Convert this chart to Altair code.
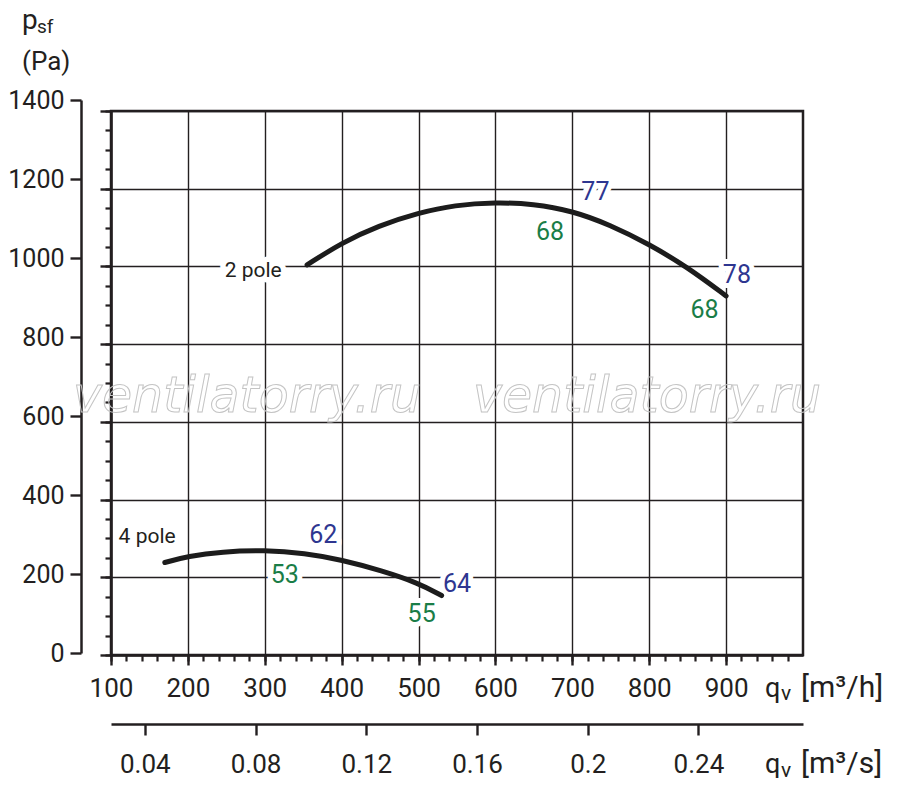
import altair as alt
import pandas as pd

# ---------------- data ----------------
# 2 pole curve  (qv in m3/h, psf in Pa)
q_2pole = [355, 400, 448, 500, 547, 600, 649, 700, 749, 800, 849, 900]
p_2pole = [1004, 1061, 1105, 1138, 1158, 1165, 1161, 1143, 1107, 1057, 999, 924]
# 4 pole curve
q_4pole = [170, 200, 244, 300, 352, 400, 452, 500, 530]
p_4pole = [238, 254, 266, 270, 262, 245, 217, 185, 153]

# axis tick values
x_major_h = [100, 200, 300, 400, 500, 600, 700, 800, 900]
x_minor_h = list(range(100, 1000, 20))
y_major = [0, 200, 400, 600, 800, 1000, 1200, 1400]
y_minor = list(range(0, 1401, 50))
x_major_s = [0.04, 0.08, 0.12, 0.16, 0.2, 0.24]

# number annotations (position in data units)
num_text = ["77", "68", "78", "68", "62", "53", "64", "55"]
num_q = [730, 671, 914, 872, 376, 326, 550, 504]
num_p = [1171, 1068, 957, 867, 288, 185, 162, 86]
num_kind = ["blue", "green", "blue", "green", "blue", "green", "blue", "green"]

# curve name annotations
name_text = ["2 pole", "4 pole"]
name_q = [285, 147]
name_p = [974, 288]

# ---------------- styling ----------------
INK = "#231f20"
BLUE = "#2e3690"
GREEN = "#1a7d47"
FONT = "Roboto"

W, H = 692, 544

df_curves = pd.DataFrame({
    "Q": q_2pole + q_4pole,
    "P": p_2pole + p_4pole,
    "series": ["2 pole"] * len(q_2pole) + ["4 pole"] * len(q_4pole),
})
df_curves["Qs"] = df_curves["Q"] / 3600.0
df_num = pd.DataFrame({"t": num_text, "q": num_q, "p": num_p, "kind": num_kind})
df_name = pd.DataFrame({"t": name_text, "q": name_q, "p": name_p})


def xs():
    return alt.Scale(domain=[100, 1000], nice=False, zero=False)


def ys():
    return alt.Scale(domain=[0, 1400], nice=False, zero=False)


base = alt.Chart(df_curves)

# major axes + grid
major = base.mark_point(opacity=0).encode(
    x=alt.X("Q:Q", scale=xs(), axis=alt.Axis(
        orient="bottom", values=x_major_h, grid=True, gridColor=INK, gridWidth=1.4,
        tickSize=10, tickWidth=2.4, tickColor=INK, domainColor=INK, domainWidth=2.5,
        labelFont=FONT, labelFontSize=26, labelColor=INK, labelPadding=10,
        labelFlush=False, labelOverlap=False, format="d", title=None)),
    y=alt.Y("P:Q", scale=ys(), axis=alt.Axis(
        orient="left", values=y_major, grid=True, gridColor=INK, gridWidth=1.4,
        tickSize=11, tickWidth=2.4, tickColor=INK, domainColor=INK, domainWidth=2.5,
        labels=False, title=None)),
)

# minor ticks
minor = base.mark_point(opacity=0).encode(
    x=alt.X("Q:Q", scale=xs(), axis=alt.Axis(
        orient="bottom", values=x_minor_h, grid=False, domain=False, labels=False,
        tickSize=6, tickWidth=2.2, tickColor=INK, title=None)),
    y=alt.Y("P:Q", scale=ys(), axis=alt.Axis(
        orient="left", values=y_minor, grid=False, domain=False, labels=False,
        tickSize=6, tickWidth=2.2, tickColor=INK, title=None)),
)

# outer pressure axis (slightly taller bracket at the left)
outer_y = base.mark_point(opacity=0).encode(
    y=alt.Y("P:Q", scale=alt.Scale(domain=[0, 1400], nice=False, zero=False, range=[542, -11]),
            axis=alt.Axis(orient="left", offset=30, values=y_major, grid=False,
                          tickSize=11, tickWidth=2.4, tickColor=INK, domainColor=INK,
                          domainWidth=2.5, labelFont=FONT, labelFontSize=25, labelColor=INK,
                          labelPadding=6, labelFlush=False, labelOverlap=False, format="d",
                          title=None)),
)

# second flow axis in m3/s
axis_s = base.mark_point(opacity=0).encode(
    x=alt.X("Qs:Q", scale=alt.Scale(domain=[100 / 3600, 1000 / 3600], nice=False, zero=False),
            axis=alt.Axis(orient="bottom", offset=69, values=x_major_s, grid=False,
                          tickSize=11, tickWidth=2.4, tickColor=INK, domainColor=INK,
                          domainWidth=2.5, labelFont=FONT, labelFontSize=26, labelColor=INK,
                          labelPadding=16, labelFlush=False, labelOverlap=False,
                          labelExpr="format(datum.value, '.2~f')", title=None)),
)

# watermark
wm_df = pd.DataFrame({"t": ["ventilatorry.ru"]})


def watermark(xpix):
    return alt.Chart(wm_df).mark_text(
        font="DejaVu Sans", fontStyle="italic", fontSize=49, fillOpacity=0, stroke="#c4c4c4",
        strokeWidth=1, align="center", baseline="alphabetic"
    ).encode(x=alt.value(xpix), y=alt.value(301), text="t:N")


# curves
curves = base.mark_line(strokeWidth=5, color="#1c1c1c", interpolate="basis",
                        strokeCap="round").encode(
    x=alt.X("Q:Q", scale=xs(), axis=None),
    y=alt.Y("P:Q", scale=ys(), axis=None),
    detail="series:N",
)

# annotation halos + text
num_halo = alt.Chart(df_num).mark_text(
    font=FONT, fontSize=25, align="center", baseline="alphabetic",
    stroke="white", strokeWidth=10, strokeJoin="round", fill="white"
).encode(x=alt.X("q:Q", scale=xs(), axis=None), y=alt.Y("p:Q", scale=ys(), axis=None), text="t:N")
num_lab = alt.Chart(df_num).mark_text(
    font=FONT, fontSize=25, align="center", baseline="alphabetic"
).encode(
    x=alt.X("q:Q", scale=xs(), axis=None), y=alt.Y("p:Q", scale=ys(), axis=None), text="t:N",
    color=alt.Color("kind:N", scale=alt.Scale(domain=["blue", "green"], range=[BLUE, GREEN]), legend=None),
)
name_halo = alt.Chart(df_name).mark_text(
    font=FONT, fontSize=21, align="center", baseline="alphabetic",
    stroke="white", strokeWidth=11, strokeJoin="round", fill="white"
).encode(x=alt.X("q:Q", scale=xs(), axis=None), y=alt.Y("p:Q", scale=ys(), axis=None), text="t:N")
name_lab = alt.Chart(df_name).mark_text(
    font=FONT, fontSize=21, align="center", baseline="alphabetic", color=INK
).encode(x=alt.X("q:Q", scale=xs(), axis=None), y=alt.Y("p:Q", scale=ys(), axis=None), text="t:N")


def txt(s, x, y, size):
    return alt.Chart(pd.DataFrame({"t": [s]})).mark_text(
        font=FONT, fontSize=size, align="left", baseline="alphabetic", color=INK
    ).encode(x=alt.value(x), y=alt.value(y), text="t:N")


titles = [
    txt("p", -89, -82, 28), txt("sf", -74, -78, 19), txt("(Pa)", -89, -41, 26),
    txt("q", 654, 586, 27), txt("v", 670, 589, 21), txt("[m³/h]", 690, 586, 30),
    txt("q", 654, 662, 27), txt("v", 670, 666, 21), txt("[m³/s]", 690, 662, 30),
]

chart = alt.layer(
    major, minor, outer_y, axis_s, watermark(136), watermark(536),
    num_halo, name_halo, curves, num_lab, name_lab, *titles
).resolve_scale(x="independent", y="independent", color="independent").resolve_axis(
    x="independent", y="independent"
).properties(
    width=W, height=H,
    autosize=alt.AutoSizeParams(type="none"),
    padding={"left": 103, "top": 103, "right": 89, "bottom": 123},
    background="white",
).configure_view(stroke=INK, strokeWidth=2.5)

chart.save("out.html", embed_options={"renderer": "svg", "actions": False})
